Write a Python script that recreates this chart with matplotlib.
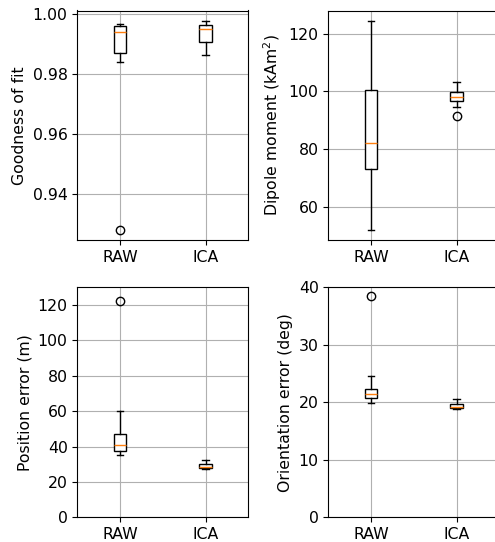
import matplotlib
matplotlib.use("Agg")
import matplotlib.pyplot as plt

labels = ["RAW", "ICA"]

# Goodness of fit
gof_med = [0.9941, 0.9952]
gof_q1 = [0.9872, 0.9909]
gof_q3 = [0.9961, 0.9965]
gof_lo = [0.9840, 0.9865]
gof_hi = [0.9969, 0.9978]
gof_fliers = [[0.9281], []]

# Dipole moment
dip_med = [82.3, 98.2]
dip_q1 = [73.2, 96.8]
dip_q3 = [100.5, 99.9]
dip_lo = [52.2, 94.7]
dip_hi = [124.4, 103.2]
dip_fliers = [[], [91.4]]

# Position error
pos_med = [41.1, 28.6]
pos_q1 = [37.4, 27.7]
pos_q3 = [47.2, 30.2]
pos_lo = [35.3, 27.3]
pos_hi = [60.3, 32.4]
pos_fliers = [[122.1], []]

# Orientation error
ori_med = [21.4, 19.2]
ori_q1 = [20.7, 19.0]
ori_q3 = [22.4, 19.65]
ori_lo = [19.9, 18.8]
ori_hi = [24.5, 20.5]
ori_fliers = [[38.5], []]


def make_stats(med, q1, q3, lo, hi, fl):
    return [dict(med=med[i], q1=q1[i], q3=q3[i], whislo=lo[i], whishi=hi[i],
                 fliers=fl[i], label=labels[i]) for i in range(len(labels))]


fig = plt.figure(figsize=(4.95, 5.42), dpi=100)
W, H = 495, 542
def pos(l, r, t, b):
    return [l / W, (H - b) / H, (r - l) / W, (b - t) / H]

axes = [
    fig.add_axes(pos(77.3, 248.3, 10.5, 240)),
    fig.add_axes(pos(328.3, 499.3, 10.5, 240)),
    fig.add_axes(pos(77.3, 248.3, 287.3, 517.3)),
    fig.add_axes(pos(328.3, 499.3, 287.3, 517.3)),
]

data = [
    (make_stats(gof_med, gof_q1, gof_q3, gof_lo, gof_hi, gof_fliers), "Goodness of fit", None),
    (make_stats(dip_med, dip_q1, dip_q3, dip_lo, dip_hi, dip_fliers), "Dipole moment (kAm$^2$)", None),
    (make_stats(pos_med, pos_q1, pos_q3, pos_lo, pos_hi, pos_fliers), "Position error (m)", (0, 130)),
    (make_stats(ori_med, ori_q1, ori_q3, ori_lo, ori_hi, ori_fliers), "Orientation error (deg)", (0, 40)),
]

for ax, (stats, ylabel, ylim) in zip(axes, data):
    ax.bxp(stats, positions=[1, 2], widths=0.15, patch_artist=True,
           boxprops=dict(facecolor="white", edgecolor="black", linewidth=1.0),
           medianprops=dict(color="C1", linewidth=1.0))
    ax.set_xlim(0.5, 2.5)
    ax.grid(True)
    ax.set_axisbelow(True)
    ax.set_ylabel(ylabel, fontsize=11.3)
    ax.tick_params(labelsize=11.3)
    if ylim is not None:
        ax.set_ylim(*ylim)

fig.savefig("out.png", dpi=100)
